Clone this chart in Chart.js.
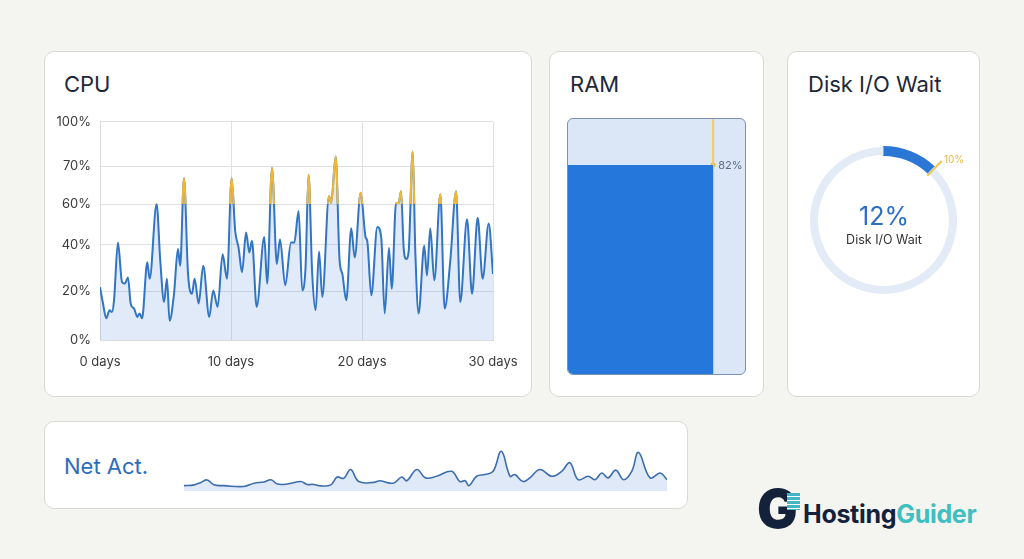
<!DOCTYPE html>
<html>
<head>
<meta charset="utf-8">
<script src="https://cdn.jsdelivr.net/npm/chart.js@4.4.1/dist/chart.umd.min.js"></script>
<style>
    body { margin: 0; background: #f4f4f0; font-family: Inter, "Noto Sans", sans-serif; }
    #page { position: relative; width: 1024px; height: 559px; overflow: hidden; }
    .card { position: absolute; background: #fff; border: 1px solid #dadad5; border-radius: 10px; box-sizing: border-box; }
    .title { position: absolute; font-size: 22px; line-height: 22px; color: #1e2839; white-space: nowrap; }
    .box { position: absolute; }
    #ramBox { position: absolute; left: 567px; top: 118px; width: 179px; height: 257px; background: #dbe7f7; border: 1px solid #7a91b0;
              border-radius: 6px; box-sizing: border-box; overflow: hidden; }
    #diskValue { position: absolute; left: 834px; width: 100px; top: 202px; text-align: center; font-size: 25px; line-height: 28px; color: #2d6ec3; }
    #diskName { position: absolute; left: 824px; width: 120px; top: 232px; text-align: center; font-size: 12.5px; line-height: 16px; color: #333; }
    #logoG { position: absolute; left: 757px; top: 482px; font-size: 54px; font-weight: 900; line-height: 54px; color: #14213a; }
    #logoServer { position: absolute; left: 787px; top: 493px; width: 13px; height: 17px;
                  background: repeating-linear-gradient(#43b6c6 0 3px, #fff 3px 4px); }
    #logoText { position: absolute; left: 803px; top: 499px; font-size: 25px; font-weight: 700; line-height: 30px; color: #14213a; letter-spacing: -0.3px; }
    #logoText span { color: #3fbfc0; }
</style>
</head>
<body>
<div id="page">
    <div class="card" style="left:44px;top:51px;width:488px;height:346px"></div>
    <div class="card" style="left:549px;top:51px;width:215px;height:346px"></div>
    <div class="card" style="left:787px;top:51px;width:193px;height:346px"></div>
    <div class="card" style="left:44px;top:421px;width:644px;height:88px"></div>

    <div class="title" style="left:64px;top:73px">CPU</div>
    <div class="title" style="left:570px;top:73px">RAM</div>
    <div class="title" style="left:808px;top:73px">Disk I/O Wait</div>
    <div class="title" style="left:64px;top:455px;color:#2e6cbd">Net Act.</div>

    <div class="box" style="left:50px;top:105px;width:470px;height:275px"><canvas id="cpuChart"></canvas></div>
    <div id="ramBox"><canvas id="ramChart"></canvas></div>
    <div class="box" style="left:803px;top:140px;width:161px;height:161px"><canvas id="diskChart"></canvas></div>
    <div id="diskValue">12%</div>
    <div id="diskName">Disk I/O Wait</div>
    <div class="box" style="left:180px;top:446px;width:491px;height:48px"><canvas id="netChart"></canvas></div>

    <div id="logoG">G</div>
    <div id="logoServer"></div>
    <div id="logoText">Hosting<span>Guider</span></div>
</div>

<script>
// CPU load over 30 days (%)
const cpuDays = [0, 0.23, 0.48, 0.73, 0.91, 1.07, 1.37, 1.68, 1.89, 2.14,
    2.34, 2.6, 2.85, 3.02, 3.21, 3.61, 3.79, 4.32, 4.6, 4.89,
    5.11, 5.31, 5.65, 5.95, 6.12, 6.41, 6.72, 7.02, 7.22, 7.53,
    7.88, 8.34, 8.64, 8.98, 9.36, 9.69, 10.05, 10.32, 10.58, 10.84,
    11.15, 11.4, 11.6, 11.96, 12.54, 12.76, 13.13, 13.5, 13.74, 14.14,
    14.58, 14.83, 15.16, 15.44, 15.69, 15.92, 16.2, 16.46, 16.72, 16.97,
    17.48, 17.65, 17.99, 18.29, 18.5, 18.8, 19.18, 19.44, 19.9, 20.28,
    20.4, 20.71, 21.17, 21.47, 21.73, 22.06, 22.27, 22.6, 22.8, 22.98,
    23.18, 23.36, 23.56, 23.87, 24.07, 24.32, 24.75, 24.96, 25.21, 25.52,
    25.98, 26.31, 26.74, 27.18, 27.5, 28.02, 28.4, 28.83, 29.21, 29.67, 30];
const cpuLoad = [21.8, 15, 8.9, 12.2, 11.5, 16.3, 41.1, 24, 23.3, 26,
    15, 12.9, 9.5, 10.9, 8.9, 32.5, 25.4, 60, 33.2, 15.6,
    25.4, 7.9, 19, 38.2, 31, 66.9, 27.5, 19, 25.4, 15,
    31, 9.5, 20.4, 13.6, 36, 25.4, 66.9, 46.8, 38.7, 28.2,
    46, 36.7, 42, 13.6, 43.8, 23.3, 69.6, 31.8, 42.8, 22.6,
    41.1, 41.1, 56.6, 20.4, 30.3, 67.8, 27.5, 12.2, 37.1, 17.7,
    62.1, 60.3, 76.7, 33.2, 27.5, 16.3, 48.1, 34.6, 63, 43.6,
    42, 18.4, 48.8, 43.6, 10.9, 38.7, 21.1, 60.3, 60.3, 63.4,
    38.7, 33.9, 37.1, 80, 37.1, 10.9, 39.6, 26.8, 48.1, 24.7,
    62.6, 12.9, 33.2, 63.4, 15.6, 52.5, 19, 53.3, 25.4, 50.5, 27.5];
const cpuTicks = [0, 20, 40, 60, 70, 100];
const cpuDayTicks = [0, 10, 20, 30];
const cpuLimit = 60;

// RAM and disk
const ramUsed = 82;
const diskWait = 12;
const diskLimit = 10;

// Network activity sparkline (relative units)
const netX = [0, 2.1, 3.5, 4.8, 6.2, 8.3, 12.4, 14.5, 16.6, 18,
    19.3, 21.4, 24.2, 25.5, 26.9, 28.3, 30.4, 31.7, 33.1, 34.5,
    36.2, 39.3, 40.6, 43.3, 45.1, 46.1, 48.2, 50, 52.3, 55.4,
    57.1, 58.2, 59, 60.6, 62.3, 64, 65.7, 67.5, 68.5, 70.2,
    71.6, 73.7, 76.1, 78.2, 79.9, 81.6, 83.7, 85.1, 86.5, 87.8,
    89.4, 91, 92.7, 94.1, 96.5, 98.6, 100];
const netVal = [1.3, 1.5, 2.1, 2.7, 1.5, 1.3, 1.1, 1.9, 2.2, 2.75,
    1.7, 1.7, 2.3, 1.6, 1.6, 1.25, 1.5, 3.4, 3.1, 5.25,
    2.3, 2.1, 2.5, 1.9, 3.4, 2.5, 5.25, 3.2, 3.6, 4.8,
    2.3, 2.5, 1.3, 3.6, 4, 4.8, 9.7, 3.6, 4, 2.3,
    3.2, 5.25, 3.6, 4.8, 6.9, 2.75, 3.6, 2.75, 4.4, 3.2,
    5.1, 2.75, 4.8, 9.4, 3.2, 4.4, 2.75];

Chart.defaults.font.family = 'Inter, "Noto Sans", sans-serif';
Chart.defaults.animation = false;
Chart.defaults.plugins.legend.display = false;
Chart.defaults.plugins.tooltip.enabled = false;

// y axis of the CPU chart: ticks are not evenly spread in value
class StopsScale extends Chart.LinearScale {
    buildTicks() {
        return this.options.stops.map(s => ({ value: s[0] }));
    }
    getPixelForValue(value) {
        const stops = this.options.stops;
        if (value === null || isNaN(value)) return NaN;
        let i = 1;
        while (i < stops.length - 1 && value > stops[i][0]) i++;
        const a = stops[i - 1], b = stops[i];
        const f = a[1] + (value - a[0]) / (b[0] - a[0]) * (b[1] - a[1]);
        return this.getPixelForDecimal(f);
    }
    getValueForPixel(pixel) {
        const stops = this.options.stops;
        const f = this.getDecimalForPixel(pixel);
        let i = 1;
        while (i < stops.length - 1 && f > stops[i][1]) i++;
        const a = stops[i - 1], b = stops[i];
        return a[0] + (f - a[1]) / (b[1] - a[1]) * (b[0] - a[0]);
    }
}
StopsScale.id = 'stops';
StopsScale.defaults = {};
Chart.register(StopsScale);

// paint the part of the line above the limit in yellow
const overLimit = {
    id: 'overLimit',
    beforeDatasetDraw(chart, args) {
        if (args.index !== 1) return;
        const { ctx, chartArea, scales } = chart;
        const y = scales.y.getPixelForValue(cpuLimit);
        ctx.save();
        ctx.beginPath();
        ctx.rect(chartArea.left - 2, chartArea.top - 5, chartArea.width + 4, y - chartArea.top + 5);
        ctx.clip();
    },
    afterDatasetDraw(chart, args) {
        if (args.index === 1) chart.ctx.restore();
    }
};

const cpuPoints = cpuDays.map((d, i) => ({ x: d, y: cpuLoad[i] }));

new Chart(document.getElementById('cpuChart'), {
    type: 'line',
    data: {
        datasets: [{
            label: 'CPU',
            data: cpuPoints,
            borderColor: '#3175c3',
            backgroundColor: 'rgba(72, 132, 222, 0.17)',
            borderWidth: 2,
            fill: 'origin',
            pointRadius: 0,
            cubicInterpolationMode: 'monotone',
            order: 1
        }, {
            label: 'Over limit',
            data: cpuPoints,
            borderColor: '#f0b838',
            borderWidth: 2,
            fill: false,
            pointRadius: 0,
            cubicInterpolationMode: 'monotone',
            order: 0
        }]
    },
    options: {
        responsive: true,
        maintainAspectRatio: false,
        layout: { padding: { top: 15, right: 27 } },
        scales: {
            x: {
                type: 'linear',
                min: 0,
                max: 30,
                afterBuildTicks: scale => { scale.ticks = cpuDayTicks.map(v => ({ value: v })); },
                afterFit: scale => { scale.height = 40; scale.paddingLeft = 0; scale.paddingRight = 0; },
                ticks: { callback: v => v + ' days', color: '#3a3a3a', font: { size: 13 }, padding: 14, maxRotation: 0 },
                grid: { color: '#e0e0e0', drawTicks: false },
                border: { color: '#dcdcdc' }
            },
            y: {
                type: 'stops',
                min: 0,
                max: 100,
                stops: [[0, 0], [20, 0.223], [40, 0.436], [60, 0.623], [70, 0.795], [100, 1]],
                afterFit: scale => { scale.width = 50; },
                ticks: { callback: v => v + '%', color: '#3a3a3a', font: { size: 13 }, padding: 9 },
                grid: { color: '#e0e0e0', drawTicks: false },
                border: { color: '#dcdcdc' }
            }
        }
    },
    plugins: [overLimit]
});

// RAM: used area, limit line and its label
const ramLabel = {
    id: 'ramLabel',
    afterDatasetsDraw(chart) {
        const { ctx, scales } = chart;
        const x = scales.x.getPixelForValue(ramUsed);
        const y = scales.y.getPixelForValue(ramUsed);
        ctx.save();
        ctx.font = '11px Inter, sans-serif';
        ctx.fillStyle = '#5f6d80';
        ctx.textBaseline = 'middle';
        ctx.fillText(ramUsed + '%', x + 5, y + 1);
        ctx.restore();
    }
};

new Chart(document.getElementById('ramChart'), {
    type: 'line',
    data: {
        datasets: [{
            data: [{ x: 0, y: ramUsed }, { x: ramUsed, y: ramUsed }],
            borderWidth: 0,
            backgroundColor: '#2677dc',
            fill: 'origin',
            pointRadius: 0
        }, {
            data: [{ x: ramUsed, y: 0 }, { x: ramUsed, y: 100 }],
            borderColor: '#f2ca62',
            borderWidth: 2,
            fill: false,
            pointRadius: 0
        }, {
            data: [{ x: ramUsed, y: ramUsed }],
            showLine: false,
            pointRadius: 2.5,
            pointBackgroundColor: '#efb53c',
            pointBorderWidth: 0
        }]
    },
    options: {
        responsive: true,
        maintainAspectRatio: false,
        layout: { padding: 0, autoPadding: false },
        scales: {
            x: { type: 'linear', min: 0, max: 100, display: false },
            y: { type: 'linear', min: 0, max: 100, display: false }
        }
    },
    plugins: [ramLabel]
});

// Disk: yellow marker and label at the end of the used arc
const diskMarker = {
    id: 'diskMarker',
    afterDatasetsDraw(chart) {
        const arc = chart.getDatasetMeta(0).data[0];
        const { x, y, innerRadius, outerRadius, endAngle } = arc.getProps(['x', 'y', 'innerRadius', 'outerRadius', 'endAngle'], true);
        const a = endAngle + 0.02;
        const ctx = chart.ctx;
        ctx.save();
        ctx.strokeStyle = '#f0c44e';
        ctx.lineWidth = 2;
        ctx.lineCap = 'round';
        ctx.beginPath();
        ctx.moveTo(x + Math.cos(a) * (innerRadius - 2), y + Math.sin(a) * (innerRadius - 2));
        ctx.lineTo(x + Math.cos(a) * (outerRadius + 9), y + Math.sin(a) * (outerRadius + 9));
        ctx.stroke();
        ctx.font = '10px Inter, sans-serif';
        ctx.fillStyle = '#e9b84a';
        ctx.textBaseline = 'middle';
        ctx.fillText(diskLimit + '%', x + Math.cos(a) * (outerRadius + 13), y + Math.sin(a) * (outerRadius + 13) + 1);
        ctx.restore();
    }
};

new Chart(document.getElementById('diskChart'), {
    type: 'doughnut',
    data: {
        labels: ['Wait', 'Idle'],
        datasets: [{
            data: [diskWait, 100 - diskWait],
            backgroundColor: ['#2a77d6', '#e3ebf6'],
            borderColor: ['#2a77d6', '#e3ebf6'],
            borderWidth: [2, 0]
        }]
    },
    options: {
        responsive: true,
        maintainAspectRatio: false,
        cutout: '89%',
        layout: { padding: 6 }
    },
    plugins: [diskMarker]
});

// Net activity sparkline
new Chart(document.getElementById('netChart'), {
    type: 'line',
    data: {
        datasets: [{
            data: netX.map((v, i) => ({ x: v, y: netVal[i] })),
            borderColor: '#3d6eac',
            borderWidth: 1.6,
            backgroundColor: 'rgba(110, 155, 225, 0.22)',
            fill: 'origin',
            pointRadius: 0,
            tension: 0.4
        }]
    },
    options: {
        responsive: true,
        maintainAspectRatio: false,
        layout: { padding: { left: 4, right: 4, top: 4, bottom: 3 }, autoPadding: false },
        scales: {
            x: { type: 'linear', min: 0, max: 100, display: false },
            y: { type: 'linear', min: 0, max: 10, display: false }
        }
    }
});
</script>
</body>
</html>
